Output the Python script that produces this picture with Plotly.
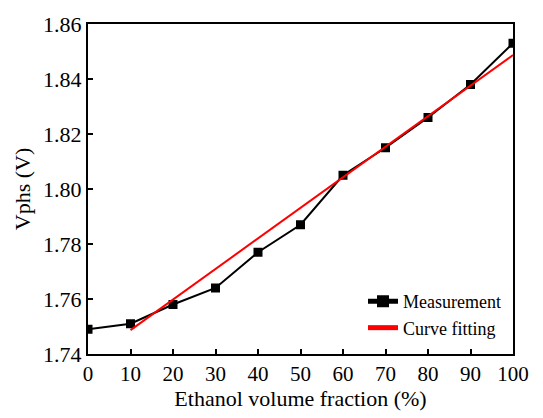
import plotly.graph_objects as go

# Ethanol volume fraction (%) and measured Vphs (V)
fraction = [0, 10, 20, 30, 40, 50, 60, 70, 80, 90, 100]
vphs = [1.749, 1.751, 1.758, 1.764, 1.777, 1.787, 1.805, 1.815, 1.826, 1.838, 1.853]

# Linear fitting curve endpoints
fit_fraction = [10, 100]
fit_vphs = [1.7487, 1.8487]

x_ticks = [0, 10, 20, 30, 40, 50, 60, 70, 80, 90, 100]
y_ticks = [1.74, 1.76, 1.78, 1.80, 1.82, 1.84, 1.86]

font_family = "Liberation Serif, Times New Roman, serif"

fig = go.Figure()
fig.add_trace(go.Scatter(
    x=fraction, y=vphs, mode="lines+markers", name="Measurement",
    line=dict(color="black", width=2),
    marker=dict(symbol="square", size=9, color="black"),
))
fig.add_trace(go.Scatter(
    x=fit_fraction, y=fit_vphs, mode="lines", name="Curve fitting",
    line=dict(color="#ff0000", width=2),
))

axis_common = dict(
    showline=True, linecolor="black", linewidth=2, mirror=True,
    ticks="inside", ticklen=5, tickwidth=2, tickcolor="black",
    showgrid=False, zeroline=False,
)

fig.update_layout(
    width=543, height=418,
    margin=dict(l=88, r=30, t=13, b=64),
    paper_bgcolor="white", plot_bgcolor="white",
    font=dict(family=font_family, color="black"),
    showlegend=True,
    legend=dict(
        x=0.647, y=0.215, xanchor="left", yanchor="top",
        bgcolor="rgba(0,0,0,0)", borderwidth=0,
        font=dict(family=font_family, size=18, color="black"),
        tracegroupgap=0, itemsizing="constant",
    ),
    xaxis=dict(
        range=[0, 100], tickvals=x_ticks,
        tickfont=dict(family=font_family, size=21, color="black"),
        title=dict(text="Ethanol volume fraction (%)", standoff=4,
                   font=dict(family=font_family, size=22, color="black")),
        **axis_common,
    ),
    yaxis=dict(
        range=[1.74, 1.86], tickvals=y_ticks, tickformat=".2f",
        tickfont=dict(family=font_family, size=22, color="black"),
        title=dict(text="Vphs (V)", standoff=6,
                   font=dict(family=font_family, size=22, color="black")),
        **axis_common,
    ),
)

fig.write_html("out.html")
